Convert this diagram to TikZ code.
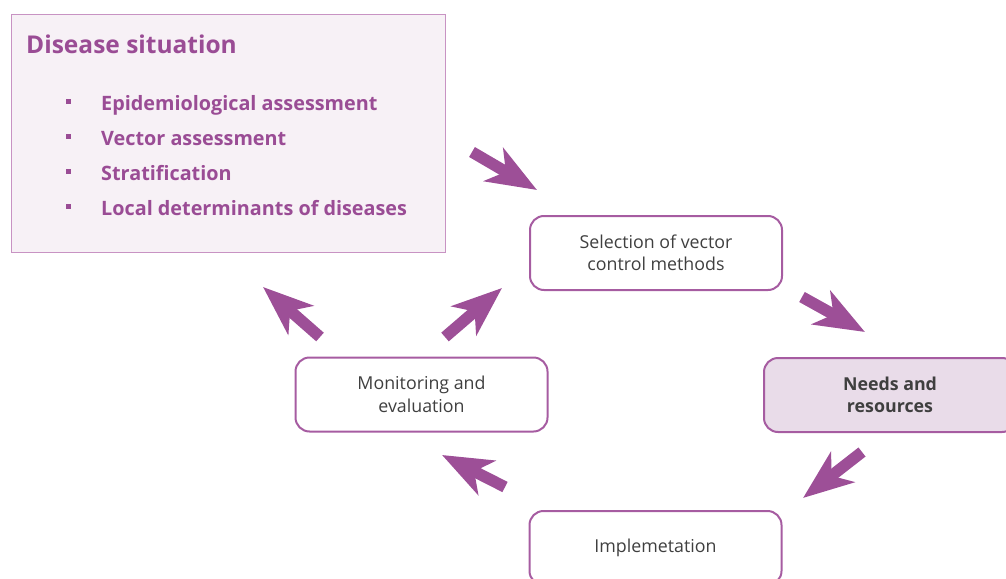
\documentclass[tikz,border=0pt]{standalone}
\usepackage{fontspec}
\setmainfont{Open Sans}
\usetikzlibrary{arrows.meta}
\definecolor{arr}{HTML}{9D4F97}
\definecolor{boxline}{HTML}{A65CA1}
\definecolor{dline}{HTML}{C893C3}
\definecolor{dfill}{HTML}{F7F1F6}
\definecolor{nfill}{HTML}{E9DCE9}
\definecolor{ptxt}{HTML}{9A4C95}
\definecolor{txt}{HTML}{3F3F3F}
\begin{document}
\begin{tikzpicture}[x=1pt,y=-1pt,
  box/.style={draw=boxline, line width=2pt, rounded corners=14pt, minimum width=252pt, minimum height=74pt, align=center, text=txt, font=\fontsize{17.8}{22.5}\selectfont, inner sep=0pt},
  bigarrow/.style={draw=arr, line width=11.5pt, -{Stealth[length=50pt,width=38pt,inset=14pt]}},
  item/.style={anchor=base west, text=ptxt, font=\fontsize{19.8}{24}\selectfont\bfseries, inner sep=0pt},
  bullet/.style={fill=ptxt, minimum size=5.5pt, inner sep=0pt},
]
\useasboundingbox (0,0) rectangle (1006,578);
\clip (0,0) rectangle (1006,578);

% Disease situation panel
\node[draw=dline, fill=dfill, line width=1pt, minimum width=434pt, minimum height=237pt, inner sep=0pt] (dis) at (228,133.5) {};
\node[anchor=base west, text=ptxt, font=\fontsize{24.5}{30}\selectfont\bfseries, inner sep=0pt] (title) at (26,53) {Disease situation};
\node[bullet] (b1) at (68.5,101.5) {};
\node[bullet] (b2) at (68.5,136.5) {};
\node[bullet] (b3) at (68.5,171.5) {};
\node[bullet] (b4) at (68.5,206.5) {};
\node[item] (i1) at (101,110) {Epidemiological assessment};
\node[item] (i2) at (101,145) {Vector assessment};
\node[item] (i3) at (101,180) {Stratification};
\node[item] (i4) at (101,215) {Local determinants of diseases};

% Process boxes
\node[box] (sel) at (656,253) {Selection of vector\\control methods};
\node[box, fill=nfill, font=\fontsize{17.8}{22.5}\selectfont\bfseries] (need) at (890,395) {Needs and\\resources};
\node[box] (mon) at (421.5,394.5) {Monitoring and\\evaluation};
\node[box] (imp) at (655.5,548) {Implemetation};

% Arrows
\coordinate (a1s) at (472,152); \coordinate (a1e) at (537,190);
\coordinate (a2s) at (802,297); \coordinate (a2e) at (865,332);
\coordinate (a3s) at (862,452); \coordinate (a3e) at (803,498);
\coordinate (a4s) at (505,487); \coordinate (a4e) at (442,455);
\coordinate (a5s) at (445,337); \coordinate (a5e) at (502,288);
\coordinate (a6s) at (320,337); \coordinate (a6e) at (263,287);
\draw[bigarrow] (a1s) -- (a1e);
\draw[bigarrow] (a2s) -- (a2e);
\draw[bigarrow] (a3s) -- (a3e);
\draw[bigarrow] (a4s) -- (a4e);
\draw[bigarrow] (a5s) -- (a5e);
\draw[bigarrow] (a6s) -- (a6e);
\end{tikzpicture}
\end{document}
